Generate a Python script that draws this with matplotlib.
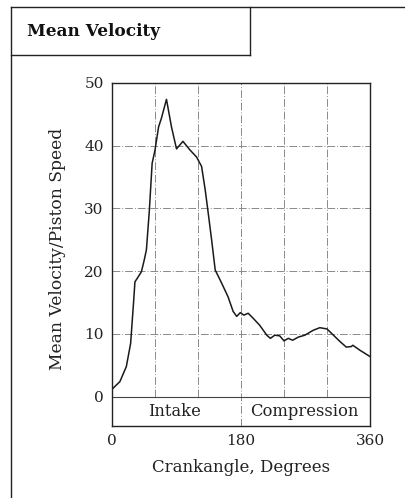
import matplotlib
matplotlib.use("Agg")
import matplotlib.pyplot as plt
import numpy as np

# ── Data (crank angle in degrees, normalised velocity) ──
crank_deg = [1, 11, 20, 26, 30, 32, 41, 45, 48, 52, 56, 60, 65, 69, 76, 83, 90,
             99, 109, 118, 125, 130, 134, 139, 144, 153, 162, 169, 174, 179, 184,
             190, 197, 206, 216, 221, 227, 234, 240, 246, 252, 260, 269, 281, 290,
             300, 309, 318, 327, 334, 336, 346, 360]
mean_vel = [1.3, 2.4, 4.8, 8.5, 14.9, 18.3, 19.9, 21.8, 23.4, 29.5, 37.2, 39.3,
            43.0, 44.4, 47.4, 43.0, 39.5, 40.7, 39.3, 38.2, 36.7, 33.0, 29.5, 25.0,
            20.2, 18.1, 15.9, 13.6, 12.8, 13.4, 13.0, 13.3, 12.5, 11.4, 9.8, 9.3,
            9.8, 9.7, 8.9, 9.3, 9.0, 9.5, 9.8, 10.6, 11.0, 10.8, 9.8, 8.8, 7.9,
            8.0, 8.2, 7.4, 6.4]

x_ticks = [0, 180, 360]
y_ticks = [0, 10, 20, 30, 40, 50]
minor_x = [60, 120, 240, 300]
phases = ["Intake", "Compression"]
phase_centres = [87, 269]

Y_BOTTOM = -4.67
SERIF = ["DejaVu Serif", "Liberation Serif"]
GRID = dict(color="#8a8a8a", linestyle=(0, (8, 2, 1, 2)), linewidth=0.7)
INK = "#222222"

fig = plt.figure(figsize=(4.05, 4.98), dpi=100)

# ── Outer frame and title box (figure coordinates) ──
W, H = 405.0, 498.0
fig.add_artist(plt.Line2D([11 / W, 11 / W], [0, 1 - 7 / H], color=INK, lw=1.0))
fig.add_artist(plt.Line2D([11 / W, 1], [1 - 7 / H, 1 - 7 / H], color=INK, lw=1.0))
fig.add_artist(plt.Line2D([11 / W, 250 / W], [1 - 55 / H, 1 - 55 / H], color=INK, lw=1.0))
fig.add_artist(plt.Line2D([250 / W, 250 / W], [1 - 55 / H, 1 - 7 / H], color=INK, lw=1.0))
fig.text(27 / W, 1 - 32 / H, "Mean Velocity", family=SERIF, fontsize=12.2,
         fontweight="bold", va="center", ha="left", color="#111111")

# ── Plot area ──
ax = fig.add_axes([112 / W, 1 - 426 / H, 258 / W, 343 / H])
ax.set_xlim(0, 360)
ax.set_ylim(Y_BOTTOM, 50)

frac0 = (0 - Y_BOTTOM) / (50 - Y_BOTTOM)
for xv in minor_x:
    ax.axvline(xv, ymin=frac0, ymax=1, **GRID)
ax.axvline(180, ymin=0, ymax=1, **GRID)
for yv in y_ticks[1:-1]:
    ax.axhline(yv, **GRID)
ax.axhline(0, color="#444444", linewidth=0.8)

ax.plot(crank_deg, mean_vel, color="#1a1a1a", linewidth=1.1)

for name, xc in zip(phases, phase_centres):
    ax.text(xc, Y_BOTTOM / 2, name, family=SERIF, fontsize=11.8,
            ha="center", va="center", color=INK)

ax.set_xticks(x_ticks)
ax.set_yticks(y_ticks)
ax.tick_params(length=0, pad=6, labelsize=11, colors=INK)
for lab in ax.get_xticklabels() + ax.get_yticklabels():
    lab.set_family(SERIF)
for sp in ax.spines.values():
    sp.set_color(INK)
    sp.set_linewidth(1.0)

fig.text(241 / W, 1 - 467 / H, "Crankangle, Degrees", family=SERIF, fontsize=12,
         ha="center", va="center", color=INK)
fig.text(58 / W, 1 - 249 / H, "Mean Velocity/Piston Speed", family=SERIF,
         fontsize=12.3, rotation=90, ha="center", va="center", color=INK)

fig.savefig("out.png", dpi=100)
